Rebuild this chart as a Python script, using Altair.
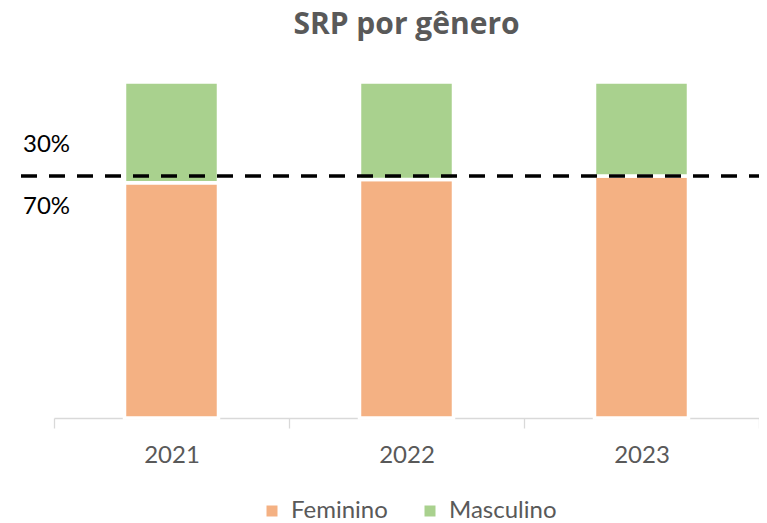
import altair as alt
import pandas as pd

years = ["2021", "2022", "2023"]
feminino = [0.70, 0.71, 0.72]
masculino = [0.30, 0.29, 0.28]
series = ["Feminino", "Masculino"]
colors = ["#F4B183", "#A9D18E"]
ref_value = 0.72
ann_labels = ["30%", "70%"]
ann_dy = [-31, 31]

rows = []
for i, y in enumerate(years):
    rows.append({"ano": y, "genero": "Feminino", "valor": feminino[i], "ordem": 0})
    rows.append({"ano": y, "genero": "Masculino", "valor": masculino[i], "ordem": 1})
df = pd.DataFrame(rows)

FONT = "Lato"

bars = alt.Chart(df).mark_bar(
    width=alt.RelativeBandSize(0.40), stroke="white", strokeWidth=3.5
).encode(
    x=alt.X("ano:N", sort=years, title=None,
            scale=alt.Scale(paddingInner=0, paddingOuter=0),
            axis=alt.Axis(labelAngle=0, tickBand="extent", domainColor="#D9D9D9",
                          tickColor="#D9D9D9", tickSize=10, domainWidth=1.3, tickWidth=1.3,
                          labelFont=FONT, labelFontSize=24, labelColor="#595959",
                          labelPadding=15)),
    y=alt.Y("valor:Q", stack="zero", scale=alt.Scale(domain=[0, 1], nice=False), axis=None),
    color=alt.Color("genero:N", sort=series,
                    scale=alt.Scale(domain=series, range=colors),
                    legend=alt.Legend(title=None, orient="none", direction="horizontal",
                                      legendX=206, legendY=417, symbolType="square",
                                      symbolSize=121, symbolStrokeWidth=0,
                                      labelFont=FONT, labelFontSize=24,
                                      labelColor="#595959", labelOffset=7,
                                      columnPadding=30)),
    order=alt.Order("ordem:Q"),
)

rule = alt.Chart(pd.DataFrame({"v": [ref_value]})).mark_rule(
    color="black", strokeWidth=3.5, strokeDash=[16, 12]
).encode(
    y="v:Q", x=alt.value(-33), x2=alt.value(705)
)

texts = []
for lbl, d in zip(ann_labels, ann_dy):
    texts.append(
        alt.Chart(pd.DataFrame({"v": [ref_value], "txt": [lbl]})).mark_text(
            align="left", baseline="middle", dy=d, font=FONT, fontSize=24, color="black"
        ).encode(y="v:Q", x=alt.value(-31), text="txt:N")
    )

chart = alt.layer(bars, rule, *texts).properties(
    width=705, height=336,
    title=alt.Title("SRP por gênero", font="Open Sans", fontSize=30, fontWeight="bold",
                    color="#595959", anchor="middle", baseline="alphabetic", offset=16),
    autosize=alt.AutoSizeParams(type="none"),
    padding={"left": 46, "top": 74, "right": 0, "bottom": 105},
).configure_view(stroke=None)

chart.save("out.html", embed_options={"renderer": "svg", "actions": False})
